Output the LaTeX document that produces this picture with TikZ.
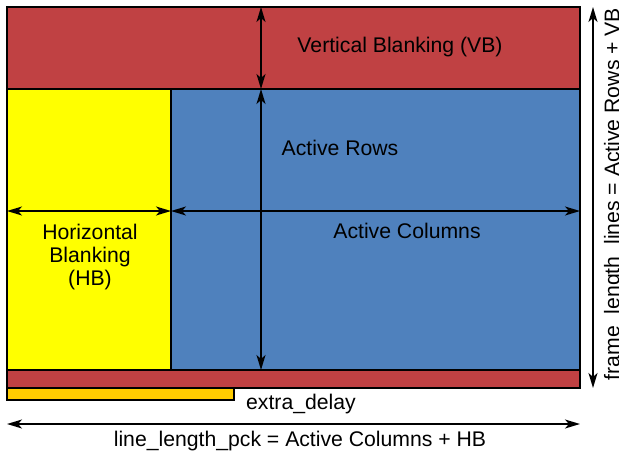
\documentclass[tikz,border=0pt]{standalone}
\usepackage{fontspec}
\setmainfont{Liberation Sans}
\usetikzlibrary{arrows.meta}
\definecolor{vbred}{RGB}{192,65,67}
\definecolor{actblue}{RGB}{79,129,189}
\definecolor{hbyellow}{RGB}{255,255,0}
\definecolor{delayorange}{RGB}{255,204,0}
\begin{document}
\begin{tikzpicture}[x=1pt,y=-1pt,
  region/.style={draw=black, line width=1.5pt, inner sep=0pt, outer sep=0pt, anchor=north west},
  dim/.style={{Stealth[length=15pt,width=9pt,inset=4pt]}-{Stealth[length=15pt,width=9pt,inset=4pt]}, line width=1.6pt},
  lbl/.style={font=\fontsize{21.2}{22.8}\selectfont, inner sep=0pt}]
\useasboundingbox (0,0) rectangle (619,453);
\node[region, fill=vbred, minimum width=573pt, minimum height=82pt] (vb) at (7,7) {};
\node[region, fill=hbyellow, minimum width=164pt, minimum height=281pt] (hb) at (7,89) {};
\node[region, fill=actblue, minimum width=409pt, minimum height=281pt] (act) at (171,89) {};
\node[region, fill=vbred, minimum width=573pt, minimum height=18pt] (bot) at (7,370) {};
\node[region, fill=delayorange, minimum width=227pt, minimum height=12pt] (delay) at (7,388) {};
\coordinate (colx) at (261,0);
\coordinate (rowy) at (0,211);
\coordinate (rx) at (593,0);
\coordinate (by) at (0,424);
\draw[dim] (vb.north -| colx) -- (vb.south -| colx);
\draw[dim] (act.north -| colx) -- (act.south -| colx);
\draw[dim] (hb.west |- rowy) -- (hb.east |- rowy);
\draw[dim] (act.west |- rowy) -- (act.east |- rowy);
\draw[dim] (vb.north -| rx) -- (bot.south -| rx);
\draw[dim] (bot.west |- by) -- (bot.east |- by);
\node[lbl] (tvb) at (400,47) {Vertical Blanking (VB)};
\node[lbl] (trows) at (340,148) {Active Rows};
\node[lbl] (tcols) at (407,231) {Active Columns};
\node[lbl, align=center] (thb) at (90,257) {Horizontal\\Blanking\\(HB)};
\node[lbl] (tdelay) at (301,404) {extra\_delay};
\node[lbl] (tline) at (300,441) {line\_length\_pck = Active Columns + HB};
\node[lbl, rotate=90] (tframe) at (614,194) {frame\_length\_lines = Active Rows + VB};
\end{tikzpicture}
\end{document}
